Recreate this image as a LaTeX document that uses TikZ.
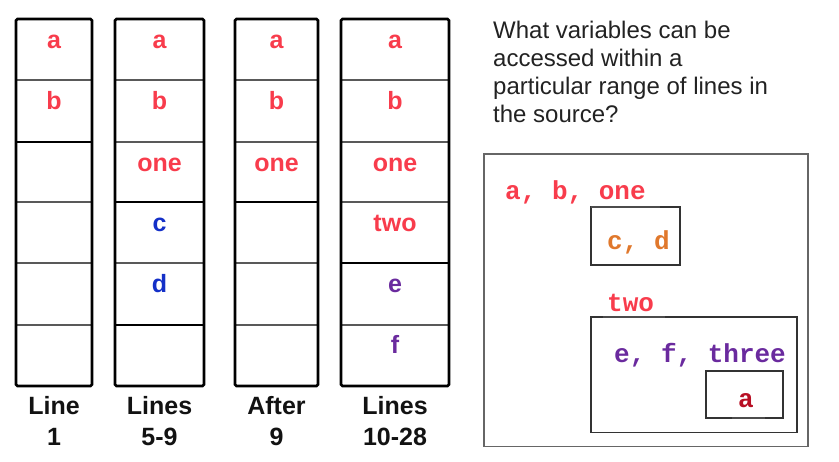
\documentclass[tikz,border=0pt]{standalone}
\usepackage{fontspec}
\setmainfont{Liberation Sans}
\newfontfamily\monofont{Liberation Mono}
\definecolor{vred}{HTML}{F83C4C}
\definecolor{vblue}{HTML}{1430C8}
\definecolor{vpurple}{HTML}{6A2A9E}
\definecolor{vorange}{HTML}{E0782C}
\definecolor{vdred}{HTML}{B80F24}
\definecolor{qgray}{HTML}{222222}
\begin{document}
\begin{tikzpicture}[x=1pt,y=-1pt,
  celltext/.style={anchor=base,inner sep=0pt,font=\fontsize{25}{30}\selectfont\bfseries},
  labeltext/.style={anchor=base,inner sep=0pt,font=\fontsize{25}{30}\selectfont\bfseries,text=black!93},
  qtext/.style={anchor=base west,inner sep=0pt,font=\fontsize{24}{28}\selectfont,text=qgray},
  codetext/.style={anchor=base west,inner sep=0pt,font=\fontsize{26}{30}\selectfont\monofont\bfseries},
  thinline/.style={line width=1.5pt,draw=black!65},
  thickline/.style={line width=2.6pt,draw=black},
  outerbox/.style={line width=2.8pt,draw=black,rounded corners=1.5pt},
  scopebox/.style={line width=1.4pt,draw=black!60},
  innerbox/.style={line width=1.2pt,draw=black!80},
  marksegment/.style={line width=2pt,draw=black!70}]
\useasboundingbox (0,0) rectangle (839,462);
% ---------- column 1 ----------
\foreach \y in {80,202,263,325} \draw[thinline] (16,\y) -- (92,\y);
\draw[thickline] (16,142) -- (92,142);
\draw[outerbox] (16,19) rectangle (92,386);
% ---------- column 2 ----------
\foreach \y in {80,142,263} \draw[thinline] (115,\y) -- (204,\y);
\foreach \y in {202,325} \draw[thickline] (115,\y) -- (204,\y);
\draw[outerbox] (115,19) rectangle (204,386);
% ---------- column 3 ----------
\foreach \y in {80,142,263,325} \draw[thinline] (235,\y) -- (318,\y);
\draw[thickline] (235,202) -- (318,202);
\draw[outerbox] (235,19) rectangle (318,386);
% ---------- column 4 ----------
\foreach \y in {80,142,202,325} \draw[thinline] (341,\y) -- (449,\y);
\draw[thickline] (341,263) -- (449,263);
\draw[outerbox] (341,19) rectangle (449,386);
% ---------- cell texts ----------
\node[celltext,text=vred] (c1a) at (54,49) {a};
\node[celltext,text=vred] (c1b) at (54,110) {b};
\node[celltext,text=vred] (c2a) at (159.5,49) {a};
\node[celltext,text=vred] (c2b) at (159.5,110) {b};
\node[celltext,text=vred] (c2one) at (159.5,171.5) {one};
\node[celltext,text=vblue] (c2c) at (159.5,232) {c};
\node[celltext,text=vblue] (c2d) at (159.5,293) {d};
\node[celltext,text=vred] (c3a) at (276.5,49) {a};
\node[celltext,text=vred] (c3b) at (276.5,110) {b};
\node[celltext,text=vred] (c3one) at (276.5,171.5) {one};
\node[celltext,text=vred] (c4a) at (395,49) {a};
\node[celltext,text=vred] (c4b) at (395,110) {b};
\node[celltext,text=vred] (c4one) at (395,171.5) {one};
\node[celltext,text=vred] (c4two) at (395,232) {two};
\node[celltext,text=vpurple] (c4e) at (395,293) {e};
\node[celltext,text=vpurple] (c4f) at (395,354) {f};
% ---------- column labels ----------
\node[labeltext] (l1a) at (54,415) {Line};
\node[labeltext] (l1b) at (54,446) {1};
\node[labeltext] (l2a) at (159.5,415) {Lines};
\node[labeltext] (l2b) at (159.5,446) {5-9};
\node[labeltext] (l3a) at (276.5,415) {After};
\node[labeltext] (l3b) at (276.5,446) {9};
\node[labeltext] (l4a) at (395,415) {Lines};
\node[labeltext] (l4b) at (395,446) {10-28};
% ---------- question ----------
\node[qtext] (q1) at (493,38.5) {What variables can be};
\node[qtext] (q2) at (493,66.5) {accessed within a};
\node[qtext] (q3) at (493,94.5) {particular range of lines in};
\node[qtext] (q4) at (493,122.5) {the source?};
% ---------- scope diagram ----------
\draw[scopebox] (484,154) rectangle (808,446.5);
\node[codetext,text=vred] (s1) at (505,200) {a, b, one};
\draw[innerbox] (591,207) rectangle (680,265);
\draw[marksegment] (591,207) -- (660,207);
\node[codetext,text=vorange] (s2) at (607,250) {c, d};
\node[codetext,text=vred] (s3) at (607,312) {two};
\draw[innerbox] (591,317) rectangle (797,432.5);
\draw[marksegment] (603,317) -- (665,317);
\node[codetext,text=vpurple] (s4) at (614,363) {e, f, three};
\draw[innerbox] (706,371) rectangle (783,418);
\draw[marksegment] (732,418) -- (765,418);
\node[codetext,text=vdred] (s5) at (738,408) {a};
\end{tikzpicture}
\end{document}
